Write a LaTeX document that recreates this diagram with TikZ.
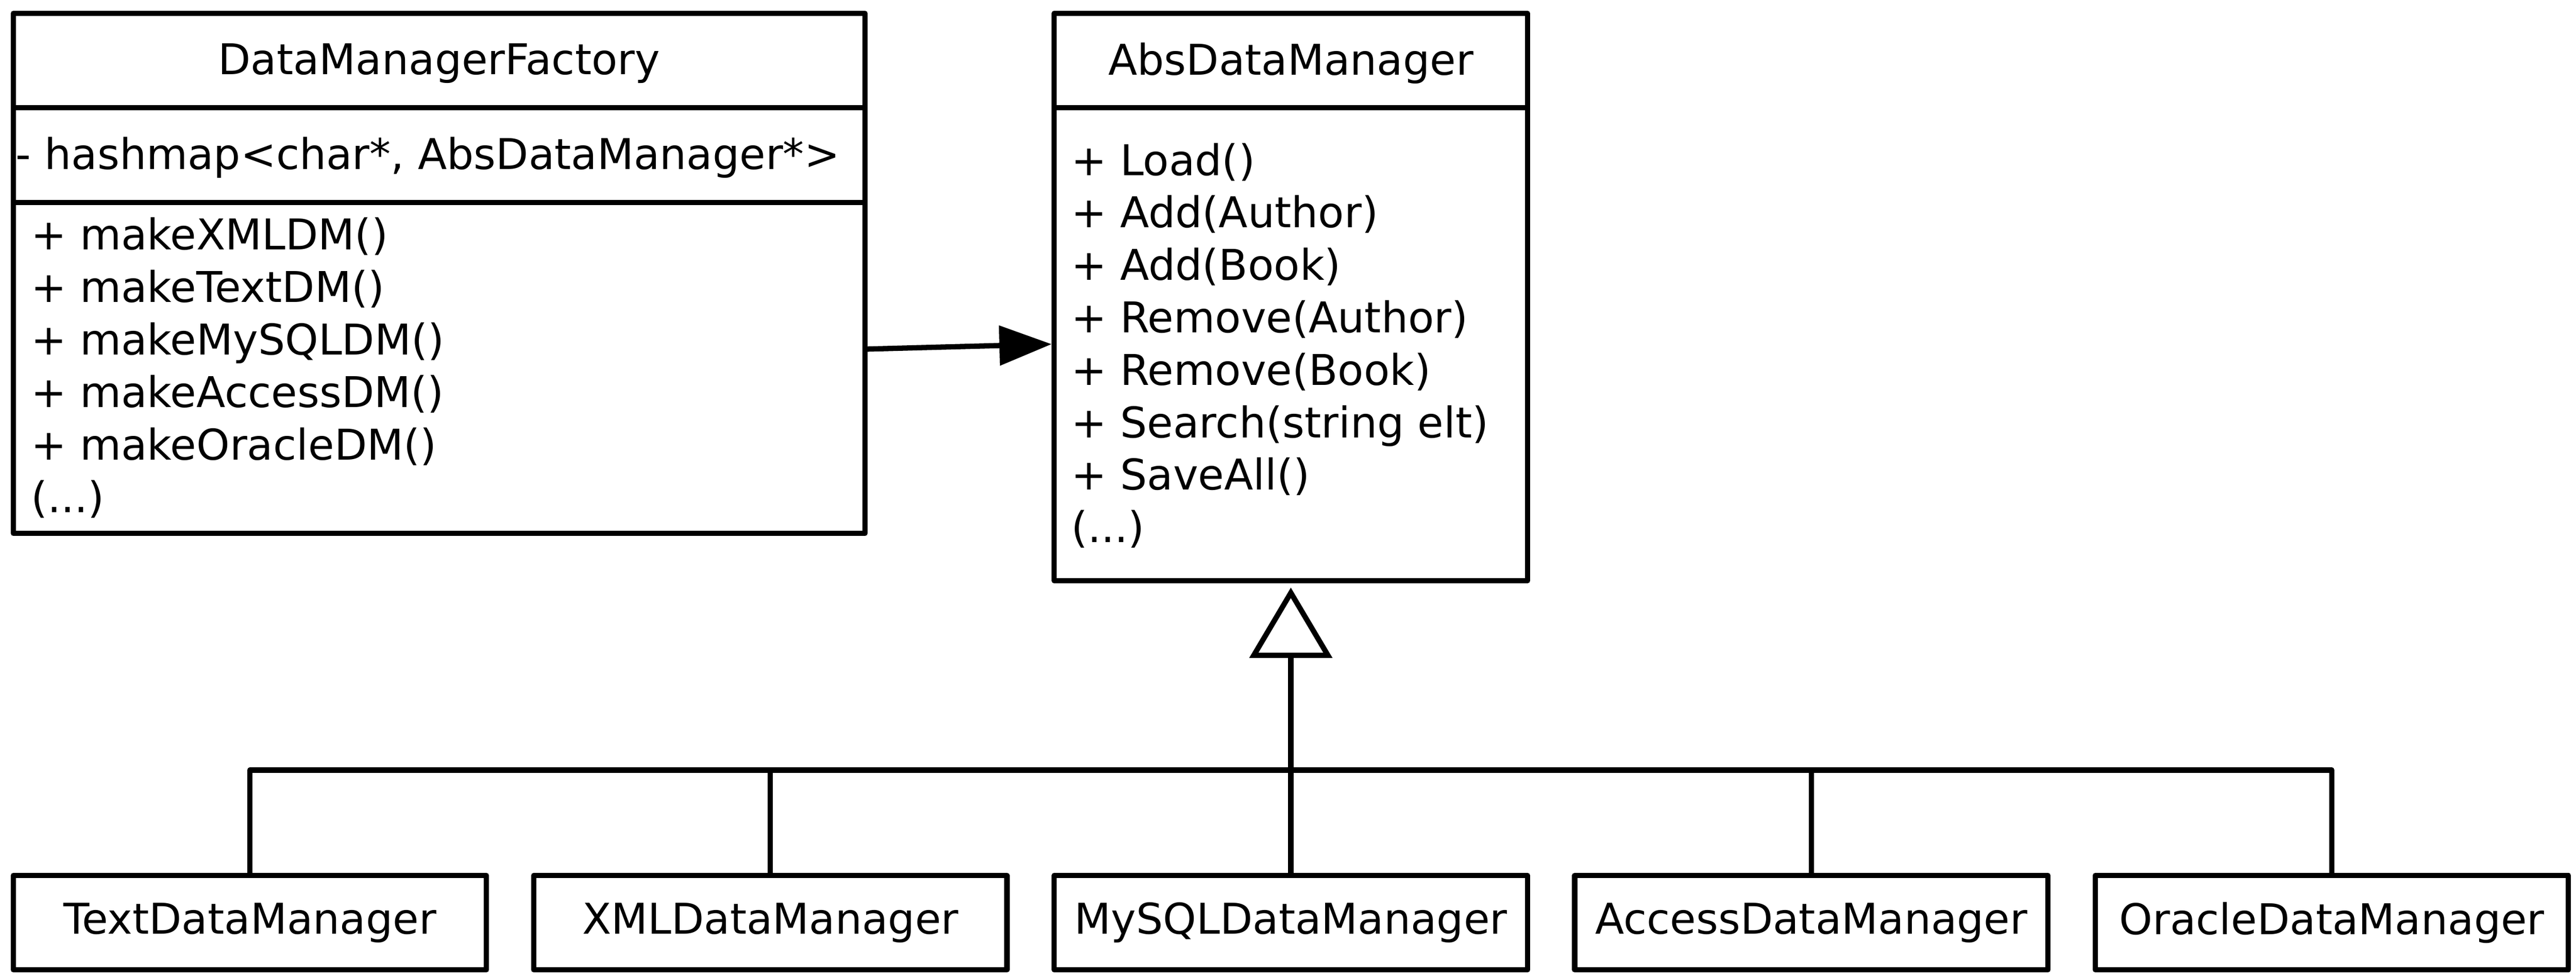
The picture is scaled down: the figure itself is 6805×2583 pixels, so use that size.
\documentclass[tikz,border=0pt]{standalone}
\usepackage{fontspec}
\setmainfont{DejaVu Sans}
\usetikzlibrary{arrows.meta}
\newcommand{\mydotsthree}{...}
\begin{document}
\begin{tikzpicture}[x=0.1pt,y=-0.1pt,
  box/.style={draw,line width=1.4pt,line join=round,inner sep=0pt},
  txt/.style={inner sep=0pt,font=\fontsize{11.2pt}{13.9pt}\selectfont},
  conn/.style={line width=1.4pt,line join=round}]
\useasboundingbox (0,0) rectangle (6805,2583);
% factory class
\node[box,minimum width=225pt,minimum height=137.4pt] (fac) at (1160,722) {};
\draw[line width=1.4pt] ([yshift=-25.6pt]fac.north west) -- ([yshift=-25.6pt]fac.north east);
\draw[line width=1.4pt] ([yshift=-50.7pt]fac.north west) -- ([yshift=-50.7pt]fac.north east);
\node[txt,anchor=base] (facT) at (1160,196) {DataManagerFactory};
\node[txt,anchor=base west] (facA) at (40,447) {- hashmap<char*, AbsDataManager*>};
\foreach \t [count=\i from 0] in {{+ makeXMLDM()},{+ makeTextDM()},{+ makeMySQLDM()},{+ makeAccessDM()},{+ makeOracleDM()},{(\mydotsthree)}}
  \node[txt,anchor=base west] (fm\i) at (80,{659+139*\i}) {\t};
% abstract class
\node[box,minimum width=125pt,minimum height=149.9pt] (abs) at (3410,784.5) {};
\draw[line width=1.4pt] ([yshift=-25.6pt]abs.north west) -- ([yshift=-25.6pt]abs.north east);
\node[txt,anchor=base] (absT) at (3410,198) {AbsDataManager};
\foreach \t [count=\i from 0] in {{+ Load()},{+ Add(Author)},{+ Add(Book)},{+ Remove(Author)},{+ Remove(Book)},{+ Search(string elt)},{+ SaveAll()},{(\mydotsthree)}}
  \node[txt,anchor=base west] (am\i) at (2828,{463+138.5*\i}) {\t};
% concrete classes
\foreach \n/\t [count=\i from 0] in {tdm/TextDataManager,xdm/XMLDataManager,mdm/MySQLDataManager,adm/AccessDataManager,odm/OracleDataManager}
  \node[box,txt,minimum width=125pt,minimum height=24.95pt] (\n) at ({660+1375*\i},2437) {\t};
% connectors
\draw[conn,-{Triangle[length=13.8pt,width=10.3pt]}] ([yshift=-20pt]fac.east) -- ([yshift=-12.45pt]abs.west);
\coordinate (bus) at (3410,2034);
\draw[conn] (tdm.north) |- (odm.north |- bus) -- (odm.north);
\draw[conn] (xdm.north) -- (xdm.north |- bus);
\draw[conn] (adm.north) -- (adm.north |- bus);
\draw[conn,-{Triangle[open,length=18.6pt,width=21.7pt]},shorten >=1.1pt] (mdm.north) -- (abs.south);
\end{tikzpicture}
\end{document}
